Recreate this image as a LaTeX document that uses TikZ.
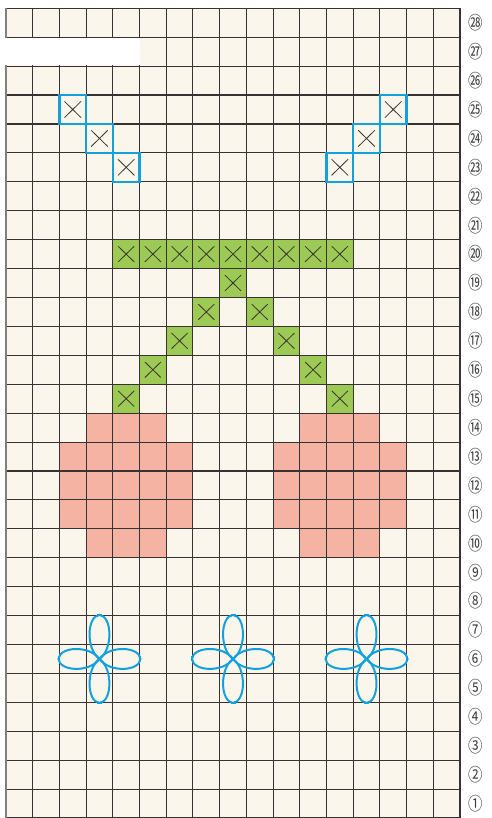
\documentclass[tikz,border=0pt]{standalone}
\usepackage{fontspec}
\newfontfamily\cjk{Noto Sans CJK JP}
\definecolor{cream}{HTML}{FBF6EC}
\definecolor{gridc}{HTML}{3A3232}
\definecolor{leaf}{HTML}{9DC955}
\definecolor{cherry}{HTML}{F4B3A3}
\definecolor{flowerblue}{HTML}{13A0DD}
\definecolor{labelc}{HTML}{3C3C3C}
\begin{document}
\begin{tikzpicture}[x=26.706pt,y=28.918pt,
  gridline/.style={draw=gridc,line width=1.1pt},
  leafcell/.style={fill=leaf},
  cherrycell/.style={fill=cherry},
  xmark/.style={draw=gridc,line width=0.8pt},
  bluebox/.style={draw=flowerblue,line width=2.3pt},
  petal/.style={draw=flowerblue,line width=2pt},
  rowlabel/.style={font=\cjk\fontsize{18}{18}\selectfont,text=labelc,inner sep=0pt}]
\useasboundingbox (-6pt,0pt) rectangle (485pt,818pt);
% background
\fill[cream] (0,0) rectangle (17,28);
% cherries
\fill[cherrycell] (3,9) rectangle (6,14);
\fill[cherrycell] (2,10) rectangle (7,13);
\fill[cherrycell] (11,9) rectangle (14,14);
\fill[cherrycell] (10,10) rectangle (15,13);
% leaves / stems
\fill[leafcell] (4,19) rectangle (13,20);
\foreach \x/\y in {8/18,7/17,9/17,6/16,10/16,5/15,11/15,4/14,12/14}
  \fill[leafcell] (\x,\y) rectangle ++(1,1);
% grid
\foreach \i in {1,...,17} \draw[gridline] (\i,0) -- (\i,28);
\foreach \j in {0,...,28} \draw[gridline] (0,\j) -- (17,\j);
\draw[draw=gray,line width=1.3pt] (0,0) -- (0,28);
% white band
\fill[white] (-0.25,26.03) rectangle (5.03,26.97);
% x marks in green cells
\foreach \x/\y in {4/19,5/19,6/19,7/19,8/19,9/19,10/19,11/19,12/19,8/18,7/17,9/17,6/16,10/16,5/15,11/15,4/14,12/14}
  \draw[xmark] (\x+0.2,\y+0.23) -- (\x+0.8,\y+0.77) (\x+0.2,\y+0.77) -- (\x+0.8,\y+0.23);
% blue boxed x marks
\foreach \x/\y in {2/24,3/23,4/22,14/24,13/23,12/22}{
  \draw[xmark] (\x+0.19,\y+0.22) -- (\x+0.81,\y+0.78) (\x+0.19,\y+0.78) -- (\x+0.81,\y+0.22);
  \draw[bluebox] (\x,\y) rectangle ++(1,1);
}
% flowers
\foreach \cx in {3.5,8.5,13.5}{
  \begin{scope}[shift={(\cx,5.5)},x=1pt,y=1pt]
    \foreach \a/\L in {0/41,90/44,180/41,270/44}{
      \begin{scope}[rotate=\a]
        \draw[petal] (0,0) .. controls (10,-14) and (\L-1,-12.5) .. (\L,0) .. controls (\L-1,12.5) and (10,14) .. (0,0);
        \draw[petal,line width=1.3pt] (\L,-2.5) -- (\L,2.5);
      \end{scope}
    }
  \end{scope}
}
% row labels
\foreach \r in {1,...,28}
  \node[rowlabel] (lab\r) at (17.6,\r-0.5) {\scalebox{0.8}[1]{\ifnum\r<21 \char\numexpr"245F+\r\relax\else\char\numexpr"323C+\r\relax\fi}};
\end{tikzpicture}
\end{document}
